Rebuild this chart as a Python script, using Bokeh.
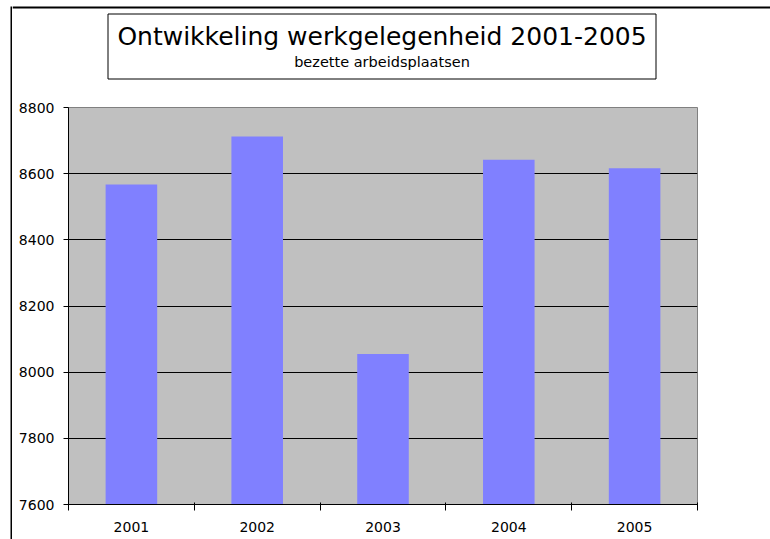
from bokeh.plotting import figure
from bokeh.layouts import row, column
from bokeh.models import FixedTicker, BoxAnnotation, Label, Span
from bokeh.embed import file_html
from bokeh.resources import INLINE

# ---- data ----
years = ["2001", "2002", "2003", "2004", "2005"]
values = [8567, 8712, 8055, 8642, 8616]
y_ticks = [7600, 7800, 8000, 8200, 8400, 8600, 8800]
title_text = "Ontwikkeling werkgelegenheid 2001-2005"
subtitle_text = "bezette arbeidsplaatsen"

FONT = "DejaVu Sans"
centers = [i + 0.5 for i in range(len(years))]
bounds = list(range(len(years) + 1))

STRIP_W = 12
HEAD_H = 97
TOTAL_W, TOTAL_H = 770, 539


def blank(width, height):
    f = figure(width=width, height=height, title=None,
               x_axis_location=None, y_axis_location=None,
               output_backend="svg", toolbar_location=None,
               min_border=0, min_border_left=0, min_border_right=0,
               min_border_top=0, min_border_bottom=0,
               outline_line_color=None, background_fill_color="white",
               border_fill_color="white")
    f.grid.visible = False
    f.frame_align = False
    return f


def canvas_box(left, right, top, bottom, **kw):
    return BoxAnnotation(left=left, right=right, top=top, bottom=bottom,
                         left_units="canvas", right_units="canvas",
                         top_units="canvas", bottom_units="canvas", **kw)


# left strip carrying the outer chart border (left edge)
strip = blank(STRIP_W, TOTAL_H)
strip.add_layout(canvas_box(10, 12, 6, TOTAL_H + 10,
                            fill_color="black", fill_alpha=1.0, line_color=None))

# header with the boxed title (top edge of the outer border)
head = blank(TOTAL_W - STRIP_W, HEAD_H)
head.add_layout(Span(dimension="width", location=7, location_units="canvas",
                     line_color="black", line_width=2))
head.add_layout(canvas_box(95.5, 643.5, 13.5, 78.5, fill_color=None, fill_alpha=0,
                           line_color="black", line_alpha=1.0, line_width=1))
head.add_layout(Label(x=369.5, y=35.5, x_units="canvas", y_units="canvas",
                      text=title_text, text_align="center",
                      text_baseline="middle", text_font=FONT,
                      text_font_size="25px", text_color="black"))
head.add_layout(Label(x=369.5, y=61, x_units="canvas", y_units="canvas",
                      text=subtitle_text, text_align="center",
                      text_baseline="middle", text_font=FONT,
                      text_font_size="14.5px", text_color="black"))

# main bar chart
p = figure(width=TOTAL_W - STRIP_W, height=TOTAL_H - HEAD_H, title=None,
           x_range=(0, len(years)), y_range=(y_ticks[0], y_ticks[-1]),
           output_backend="svg", toolbar_location=None,
           min_border_left=56, min_border_right=73,
           min_border_top=10, min_border_bottom=35,
           background_fill_color="#c0c0c0", border_fill_color="white",
           outline_line_color="#808080", outline_line_width=1)
p.frame_align = False

p.vbar(x=centers, top=values, bottom=y_ticks[0], width=0.41,
       fill_color="#8080ff", line_color=None)

p.xgrid.visible = False
p.ygrid.ticker = FixedTicker(ticks=y_ticks[1:-1])
p.ygrid.grid_line_color = "black"
p.ygrid.grid_line_width = 1

xa = p.xaxis[0]
xa.ticker = FixedTicker(ticks=centers, minor_ticks=bounds)
xa.major_label_overrides = {c: y for c, y in zip(centers, years)}
xa.major_tick_line_color = None
xa.major_tick_in = 0
xa.major_tick_out = 0
xa.minor_tick_line_color = "black"
xa.minor_tick_in = 2
xa.minor_tick_out = 6
xa.major_label_standoff = 11
xa.major_label_text_font = FONT
xa.major_label_text_font_size = "14px"
xa.major_label_text_color = "black"
xa.axis_line_color = "black"

ya = p.yaxis[0]
ya.ticker = FixedTicker(ticks=y_ticks)
ya.major_tick_in = 0
ya.major_tick_out = 5
ya.major_tick_line_color = "black"
ya.minor_tick_line_color = None
ya.major_label_standoff = 9
ya.major_label_text_font = FONT
ya.major_label_text_font_size = "14px"
ya.major_label_text_color = "black"
ya.axis_line_color = "black"

layout = row(strip, column(head, p))
open("out.html", "w").write(file_html(layout, INLINE))
